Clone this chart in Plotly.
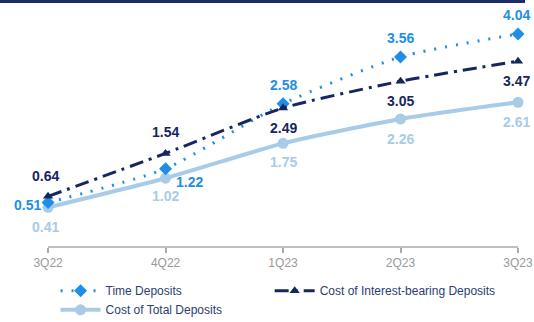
import plotly.graph_objects as go

quarters = ["3Q22", "4Q22", "1Q23", "2Q23", "3Q23"]
time_deposits = [0.51, 1.22, 2.58, 3.56, 4.04]
interest_bearing = [0.64, 1.54, 2.49, 3.05, 3.47]
total_deposits = [0.41, 1.02, 1.75, 2.26, 2.61]

C_TIME = "#1f8ee6"
C_IB = "#16275f"
C_TOT = "#a8cbe8"
FONT = "Liberation Sans, Arial, sans-serif"

fig = go.Figure()
fig.add_trace(go.Scatter(
    x=quarters, y=total_deposits, name="Cost of Total Deposits", legend="legend",
    mode="lines+markers", line=dict(color=C_TOT, width=4, shape="spline", smoothing=0.6),
    marker=dict(symbol="circle", size=11, color=C_TOT), legendrank=3))
fig.add_trace(go.Scatter(
    x=quarters, y=time_deposits, name="Time Deposits", legend="legend",
    mode="lines+markers", line=dict(color=C_TIME, width=3, dash="2px,9px", shape="spline", smoothing=0.6),
    marker=dict(symbol="diamond", size=10, color=C_TIME), legendrank=1))
fig.add_trace(go.Scatter(
    x=quarters, y=interest_bearing, name="Cost of Interest-bearing Deposits", legend="legend2",
    mode="lines+markers", line=dict(color=C_IB, width=3, dash="14px,6px,3px,6px", shape="spline", smoothing=0.6),
    marker=dict(symbol="triangle-up", size=9, color=C_IB), legendrank=2))

# label offsets (px)
time_off = [(-21, -2), (24, -13), (0, 19), (0, 19), (-2, 19)]
ib_off = [(-3, 20), (0, 21), (0, -20), (0, -20), (-2, -20)]
tot_off = [(-3, -20), (0, -18), (0, -19), (0, -20), (-2, -20)]

for vals, offs, col in [(time_deposits, time_off, C_TIME), (interest_bearing, ib_off, C_IB),
                        (total_deposits, tot_off, C_TOT)]:
    for q, v, (dx, dy) in zip(quarters, vals, offs):
        fig.add_annotation(x=q, y=v, text=f"<b>{v:.2f}</b>", showarrow=False,
                           xshift=dx, yshift=dy, font=dict(family=FONT, size=14, color=col))

# axis baseline spanning categories
fig.add_shape(type="line", xref="x", yref="paper", x0=0, x1=4, y0=0, y1=0,
              line=dict(color="#aaaaaa", width=1.5))
# top navy bar
fig.add_shape(type="rect", xref="paper", yref="paper", x0=0, x1=525/534, y0=1.038, y1=1.06,
              line=dict(width=0), fillcolor="#1c2c6b")

legend_font = dict(family=FONT, size=12, color="#2c3d72")
fig.update_layout(
    width=534, height=322, margin=dict(l=0, r=0, t=12, b=75),
    paper_bgcolor="white", plot_bgcolor="white",
    font=dict(family=FONT),
    showlegend=True,
    legend=dict(orientation="v", x=0.104, y=0.142, yref="container", xanchor="left", yanchor="top",
                font=legend_font, tracegroupgap=0, itemwidth=40, bgcolor="rgba(0,0,0,0)"),
    legend2=dict(orientation="v", x=0.505, y=0.142, yref="container", xanchor="left", yanchor="top",
                 font=legend_font, tracegroupgap=0, itemwidth=40, bgcolor="rgba(0,0,0,0)"),
    xaxis=dict(range=[-0.409, 4.136], showgrid=False, zeroline=False, showline=False,
               ticks="outside", ticklen=5, tickcolor="#aaaaaa", tickwidth=1.5,
               tickfont=dict(family=FONT, size=12, color="#999999")),
    yaxis=dict(range=[-0.42, 4.5], visible=False, showgrid=False),
)
fig.write_html("out.html")
